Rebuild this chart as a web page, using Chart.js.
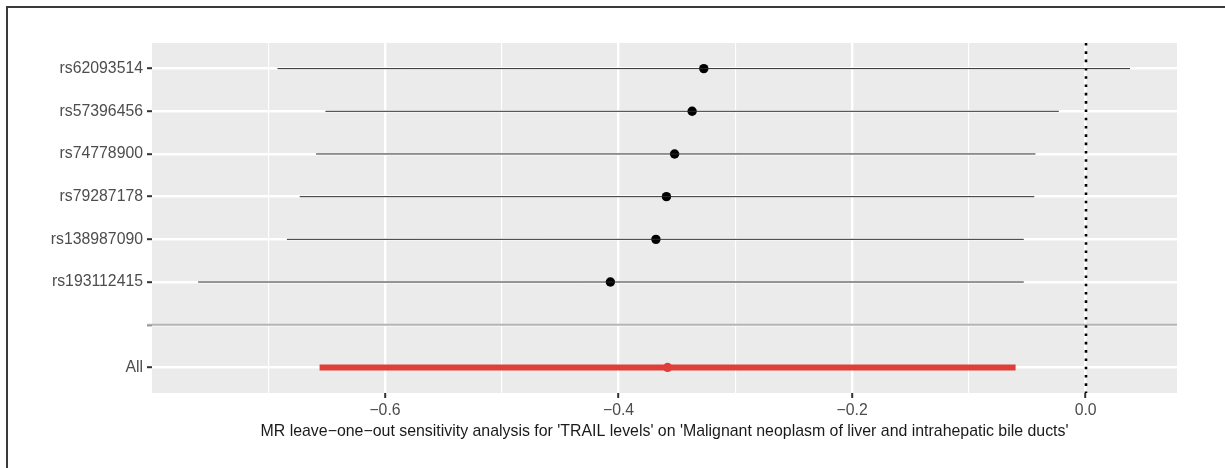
<!DOCTYPE html>
<html>
<head>
<meta charset="utf-8">
<script src="https://cdn.jsdelivr.net/npm/chart.js@4.4.1/dist/chart.umd.min.js"></script>
<style>
  html, body { margin: 0; padding: 0; background: #fff; }
  #wrap { width: 1225px; height: 468px; position: relative; }
</style>
</head>
<body>
<div id="wrap"><canvas id="c"></canvas></div>
<script>
// Leave-one-out estimates.
const snps = ["rs62093514", "rs57396456", "rs74778900", "rs79287178", "rs138987090", "rs193112415"];
const snpBeta = [-0.327, -0.337, -0.352, -0.359, -0.368, -0.407];
const snpLower = [-0.692, -0.651, -0.659, -0.673, -0.684, -0.760];
const snpUpper = [0.038, -0.023, -0.043, -0.044, -0.053, -0.053];

const allLabel = "All";
const allBeta = [-0.358];
const allLower = [-0.656];
const allUpper = [-0.060];

// Row order top to bottom; "" is the gap row with the separator line.
const rowLabels = [...snps, "", allLabel];
const rowPos = rowLabels.map((_, i) => rowLabels.length - i);

const xMajor = [-0.6, -0.4, -0.2, 0.0];
const xMinor = [-0.7, -0.5, -0.3, -0.1];
const X_MIN = -0.7995, X_MAX = 0.0782;

const FONT = "'Liberation Sans', Arial, sans-serif";
const PANEL = "#EBEBEB";
const TICK_INK = "#4D4D4D";
const RED = "#DF3F38";

const isMajor = (v) => xMajor.some((m) => Math.abs(m - v) < 1e-6);
const fmt = (v) => (v < 0 ? "\u2212" : "") + Math.abs(v).toFixed(1);

const datasets = [];
snps.forEach((s, i) => {
  datasets.push({
    label: s,
    data: [{ x: snpLower[i], y: rowPos[i] }, { x: snpUpper[i], y: rowPos[i] }],
    showLine: true,
    borderColor: "#2b2b2b",
    borderWidth: 1,
    pointRadius: 0,
  });
});
datasets.push({
  label: "snp estimates",
  data: snps.map((s, i) => ({ x: snpBeta[i], y: rowPos[i] })),
  pointRadius: 4.7,
  pointBackgroundColor: "#000",
  pointBorderWidth: 0,
});
const allRow = rowPos[rowLabels.indexOf(allLabel)];
datasets.push({
  label: "All CI",
  data: [{ x: allLower[0], y: allRow }, { x: allUpper[0], y: allRow }],
  showLine: true,
  borderColor: RED,
  borderWidth: 6,
  borderCapStyle: "butt",
  pointRadius: 0,
});
datasets.push({
  label: "All estimate",
  data: [{ x: allBeta[0], y: allRow }],
  pointRadius: 4.6,
  pointBackgroundColor: RED,
  pointBorderWidth: 0,
});

// gray panel, separator, zero line and the frame round the figure
const decor = {
  id: "decor",
  beforeDraw(chart) {
    const { ctx, chartArea: a } = chart;
    ctx.save();
    ctx.fillStyle = PANEL;
    ctx.fillRect(a.left, a.top, a.right - a.left, a.bottom - a.top);
    ctx.restore();
  },
  beforeDatasetsDraw(chart) {
    const { ctx, chartArea: a, scales } = chart;
    ctx.save();
    // separator on the empty row
    const ys = scales.y.getPixelForValue(rowPos[rowLabels.indexOf("")]);
    ctx.strokeStyle = "#B5B5B5";
    ctx.lineWidth = 2;
    ctx.beginPath();
    ctx.moveTo(a.left - 5, ys);
    ctx.lineTo(a.right, ys);
    ctx.stroke();
    // dotted line at zero
    const x0 = Math.round(scales.x.getPixelForValue(0));
    ctx.strokeStyle = "#000";
    ctx.lineWidth = 2.6;
    ctx.setLineDash([2.6, 5.7]);
    ctx.beginPath();
    ctx.moveTo(x0, a.top);
    ctx.lineTo(x0, a.bottom);
    ctx.stroke();
    ctx.restore();
  },
  afterDraw(chart) {
    const { ctx, width, height } = chart;
    ctx.save();
    ctx.strokeStyle = "#3a3a3a";
    ctx.lineWidth = 2;
    ctx.beginPath();
    ctx.moveTo(7, height);
    ctx.lineTo(7, 7);
    ctx.lineTo(width, 7);
    ctx.stroke();
    ctx.restore();
  },
};

new Chart(document.getElementById("c"), {
  type: "scatter",
  data: { datasets },
  options: {
    responsive: true,
    maintainAspectRatio: false,
    animation: false,
    events: [],
    layout: { padding: { left: 0, top: 43, right: 48, bottom: 0 } },
    plugins: { legend: { display: false }, tooltip: { enabled: false } },
    scales: {
      x: {
        type: "linear",
        min: X_MIN,
        max: X_MAX,
        afterBuildTicks: (s) => {
          s.ticks = [...xMinor, ...xMajor].sort((p, q) => p - q).map((v) => ({ value: v }));
        },
        afterFit: (s) => { s.height = 75; },
        border: { display: false },
        grid: {
          color: "#fff",
          lineWidth: (c) => (c.tick && isMajor(c.tick.value) ? 2.4 : 1.1),
          tickColor: (c) => (c.tick && isMajor(c.tick.value) ? "#333" : "rgba(0,0,0,0)"),
          tickLength: 5,
          tickWidth: 2,
        },
        ticks: {
          autoSkip: false,
          maxRotation: 0,
          padding: 3,
          color: TICK_INK,
          font: { family: FONT, size: 15.8 },
          callback: (v) => (isMajor(v) ? fmt(v) : ""),
        },
        title: {
          display: true,
          text: "MR leave\u2212one\u2212out sensitivity analysis for 'TRAIL levels' on 'Malignant neoplasm of liver and intrahepatic bile ducts'",
          color: "#1A1A1A",
          font: { family: FONT, size: 15.9 },
          padding: { top: 2, bottom: 27 },
        },
      },
      y: {
        type: "linear",
        min: 0.4,
        max: rowLabels.length + 0.6,
        afterBuildTicks: (s) => {
          s.ticks = rowPos.map((v) => ({ value: v }));
        },
        afterFit: (s) => { s.width = 152; },
        border: { display: false },
        grid: {
          color: "#fff",
          lineWidth: 2.4,
          tickColor: "#333",
          tickLength: 5,
          tickWidth: 2,
        },
        ticks: {
          autoSkip: false,
          padding: 4,
          color: TICK_INK,
          font: { family: FONT, size: 15.8 },
          callback: (v) => rowLabels[rowPos.indexOf(v)] ?? "",
        },
      },
    },
  },
  plugins: [decor],
});
</script>
</body>
</html>
